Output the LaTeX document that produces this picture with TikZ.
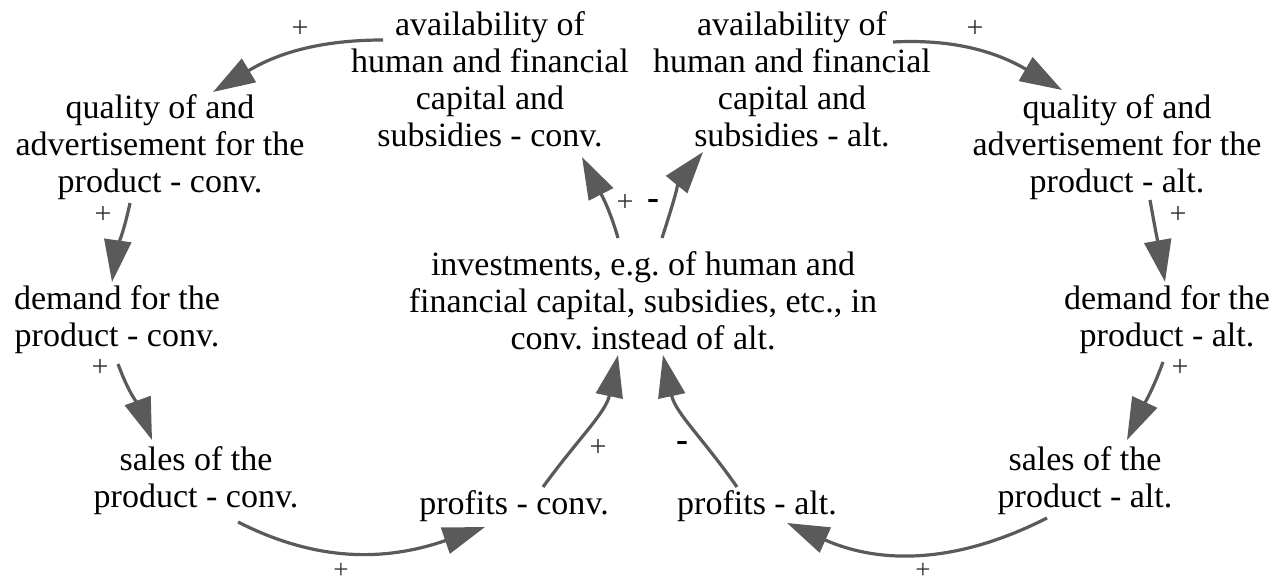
\documentclass[tikz,border=0pt]{standalone}
\usepackage{fontspec}
\setmainfont{Liberation Serif}
\usetikzlibrary{arrows.meta}
\definecolor{arrgray}{HTML}{5A5A5A}
\frenchspacing
\begin{document}
\begin{tikzpicture}[x=1pt,y=1pt,
  txt/.style={font=\fontsize{34}{37}\selectfont, align=center, inner sep=0pt},
  arr/.style={draw=arrgray, line width=3.2pt, -{Triangle[length=42pt,width=27pt]}},
  pl/.style={font=\fontsize{30}{32}\selectfont, inner sep=0pt, text=black!80},
  plb/.style={pl, font=\fontsize{27}{29}\selectfont},
  mn/.style={font=\fontsize{36}{38}\selectfont\bfseries, inner sep=0pt}]
\useasboundingbox (0,0) rectangle (1280,584);
% nodes
\node[txt] (availC) at (490,505) {availability of\\human and financial\\capital and\\subsidies - conv.};
\node[txt] (availA) at (792,505) {availability of\\human and financial\\capital and\\subsidies - alt.};
\node[txt] (qualC) at (160,437) {quality of and\\advertisement for the\\product - conv.};
\node[txt] (qualA) at (1117,437) {quality of and\\advertisement for the\\product - alt.};
\node[txt] (demC) at (117,264) {demand for the\\product - conv.};
\node[txt] (demA) at (1167,264) {demand for the\\product - alt.};
\node[txt] (salesC) at (196,103) {sales of the\\product - conv.};
\node[txt] (salesA) at (1085,103) {sales of the\\product - alt.};
\node[txt] (profC) at (514,78) {profits - conv.};
\node[txt] (profA) at (757,78) {profits - alt.};
\node[txt] (inv) at (643,283) {investments, e.g. of human and\\financial capital, subsidies, etc., in\\conv. instead of alt.};
% connectors
\draw[arr] ([shift={(-107,39)}]availC.center) to[out=180,in=31] ([shift={(53,55)}]qualC.center);
\draw[arr] ([shift={(-30,-56)}]qualC.center) to[out=258,in=82] ([shift={(-5,38)}]demC.center);
\draw[arr] ([shift={(1,-44)}]demC.center) to[out=290,in=110] ([shift={(-44,41)}]salesC.center);
\draw[arr] ([shift={(42,-41)}]salesC.center) to[out=-27,in=199] ([shift={(-29,-21)}]profC.center);
\draw[arr] ([shift={(29,19)}]profC.center) to[out=54,in=258] ([shift={(-25,-54)}]inv.center);
\draw[arr] ([shift={(-25,63)}]inv.center) to[out=106,in=297] ([shift={(92,-78)}]availC.center);
\draw[arr] ([shift={(19,63)}]inv.center) to[out=72,in=231] ([shift={(-89,-73)}]availA.center);
\draw[arr] ([shift={(101,37)}]availA.center) to[out=3,in=150] ([shift={(-55,57)}]qualA.center);
\draw[arr] ([shift={(33,-53)}]qualA.center) to[out=280,in=100] ([shift={(-2,38)}]demA.center);
\draw[arr] ([shift={(-4,-42)}]demA.center) to[out=250,in=65] ([shift={(42,41)}]salesA.center);
\draw[arr] ([shift={(-38,-37)}]salesA.center) to[out=207,in=336] ([shift={(30,-17)}]profA.center);
\draw[arr] ([shift={(-20,19)}]profA.center) to[out=125,in=282] ([shift={(20,-54)}]inv.center);
% polarity labels
\node[pl] (p1) at (300,555) {+};
\node[pl] (p2) at (103,369) {+};
\node[pl] (p3) at (100,216) {+};
\node[plb] (p4) at (341,13) {+};
\node[pl] (p5) at (598,136) {+};
\node[pl] (p6) at (625,381) {+};
\node[mn] (m7) at (653,379) {-};
\node[pl] (p8) at (975,555) {+};
\node[pl] (p9) at (1178,369) {+};
\node[pl] (p10) at (1180,216) {+};
\node[plb] (p11) at (923,13) {+};
\node[mn] (m12) at (682,137) {-};
\end{tikzpicture}
\end{document}
